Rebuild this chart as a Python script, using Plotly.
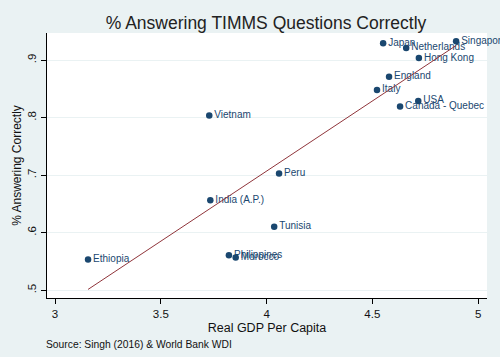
import numpy as np
import plotly.graph_objects as go

countries = ["Singapore", "Japan", "Netherlands", "Hong Kong", "England", "Italy",
             "USA", "Canada - Quebec", "Vietnam", "Peru", "India (A.P.)", "Tunisia",
             "Ethiopia", "Philippines", "Morocco"]
gdp = [4.896, 4.551, 4.660, 4.720, 4.579, 4.522, 4.717, 4.631, 3.729, 4.059,
       3.734, 4.036, 3.156, 3.822, 3.854]
pct_correct = [0.9325, 0.929, 0.921, 0.9035, 0.871, 0.848, 0.829, 0.8195, 0.8038,
               0.703, 0.6565, 0.6104, 0.5536, 0.561, 0.557]
x_ticks = [3, 3.5, 4, 4.5, 5]
x_tick_labels = ["3", "3.5", "4", "4.5", "5"]
y_ticks = [0.5, 0.6, 0.7, 0.8, 0.9]
y_tick_labels = [".5", ".6", ".7", ".8", ".9"]

navy = "#1A476F"
maroon = "#90353B"
bg = "#EAF2F3"
font = "Liberation Sans, Arial, sans-serif"

slope, intercept = np.polyfit(gdp, pct_correct, 1)
fx = np.array([min(gdp), max(gdp)])
fy = slope * fx + intercept

fig = go.Figure()
fig.add_trace(go.Scatter(
    x=gdp, y=pct_correct, mode="markers+text", text=countries,
    textposition="middle right",
    textfont=dict(family=font, size=10, color=navy),
    marker=dict(size=6.5, color=navy),
    cliponaxis=False, showlegend=False))
fig.add_trace(go.Scatter(
    x=fx, y=fy, mode="lines", line=dict(color=maroon, width=1),
    showlegend=False))

fig.update_layout(
    width=500, height=357,
    paper_bgcolor=bg, plot_bgcolor="white",
    margin=dict(l=47, r=13, t=33, b=59),
    title=dict(text="% Answering TIMMS Questions Correctly", x=0.532, xanchor="center",
               y=0.937, yanchor="middle",
               font=dict(family=font, size=17.5, color="#222222")),
    font=dict(family=font, color="#111111"),
    annotations=[dict(text="Source: Singh (2016) & World Bank WDI", xref="paper",
                      yref="paper", x=-0.007, y=-0.176, xanchor="left", yanchor="middle",
                      showarrow=False, font=dict(family=font, size=10.3, color="#111111"))],
)
fig.update_xaxes(
    range=[2.962, 5.042], tickvals=x_ticks, ticktext=x_tick_labels,
    showgrid=False, zeroline=False, showline=True, linecolor="#000000", linewidth=1,
    ticks="outside", ticklen=5, tickcolor="#000000",
    tickfont=dict(size=11.5, color="#111111"),
    title=dict(text="Real GDP Per Capita", font=dict(size=12.5, color="#111111"), standoff=4))
fig.update_yaxes(
    range=[0.4866, 0.947], tickvals=y_ticks, ticktext=y_tick_labels, tickangle=-90,
    showgrid=True, gridcolor=bg, gridwidth=1, zeroline=False,
    showline=True, linecolor="#000000", linewidth=1,
    ticks="outside", ticklen=5, tickcolor="#000000",
    tickfont=dict(size=11.5, color="#111111"),
    title=dict(text="% Answering Correctly", font=dict(size=12, color="#111111"), standoff=2))

fig.write_html("out.html", config={"displayModeBar": False},
               post_script="document.body.style.margin='0';")
